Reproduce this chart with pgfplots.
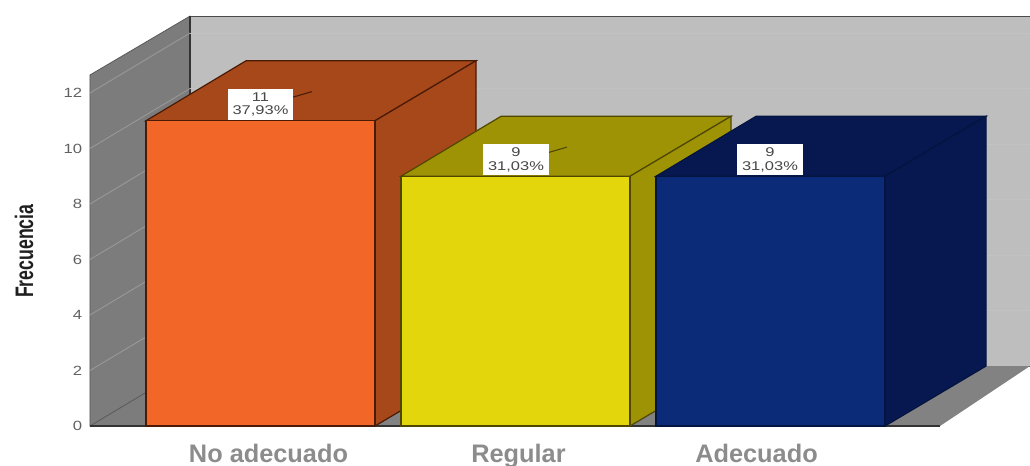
\documentclass[border=0pt]{standalone}
\usepackage{fontspec}
\setmainfont{Liberation Sans}
\usepackage{pgfplots}
\pgfplotsset{compat=1.18}
\definecolor{wallback}{HTML}{BEBEBE}
\definecolor{wallleft}{HTML}{7C7C7C}
\definecolor{wallfloor}{HTML}{828282}
\definecolor{gridleft}{HTML}{989898}
\definecolor{gridback}{HTML}{C2C2C2}
\definecolor{orangeF}{HTML}{F26627}
\definecolor{orangeS}{HTML}{A6481A}
\definecolor{orangeE}{HTML}{4A1A06}
\definecolor{yellowF}{HTML}{E3D60C}
\definecolor{yellowS}{HTML}{9E9305}
\definecolor{yellowE}{HTML}{4F4700}
\definecolor{navyF}{HTML}{0B2A78}
\definecolor{navyS}{HTML}{06184F}
\definecolor{navyE}{HTML}{041440}
\begin{document}
\begin{tikzpicture}
\begin{axis}[
  x=0.75pt, y=20.8125pt,
  xmin=90, xmax=1030, ymin=0, ymax=15.35,
  clip=false,
  axis line style={draw=none},
  tick style={draw=none},
  ytick={0,2,4,6,8,10,12},
  xtick={268.5,518.5,756.5},
  xticklabels={No adecuado,Regular,Adecuado},
  /pgf/number format/assume math mode=true,
  y tick label style={font=\fontsize{10}{12}\selectfont, text=black!62, xscale=1.25, inner sep=0pt, xshift=-4.5pt},
  x tick label style={font=\fontsize{19}{22}\selectfont\bfseries, text=black!45, inner sep=0pt, anchor=base, yshift=-27.5pt},
]
% walls and floor of the chart box
\addplot[draw=black!70, line width=0.7pt, fill=wallback] coordinates {(190,2.16)(190,14.77)(1030,14.77)(1030,2.16)} --cycle;
\addplot[draw=none, fill=wallfloor] coordinates {(90,0)(940,0)(1030,2.16)(190,2.16)} --cycle;
\addplot[draw=none, fill=wallleft] coordinates {(90,0)(146,0)(246,2.16)(190,2.16)} --cycle;
\addplot[draw=black!65, line width=0.6pt, fill=wallleft] coordinates {(90,0)(90,12.65)(190,14.77)(190,2.16)} --cycle;
\addplot[draw=black!80, line width=0.9pt] coordinates {(190,14.77)(190,2.16)};
\addplot[draw=black!80, line width=1pt] coordinates {(90,0)(940,0)};

% gridlines on the left and back walls
\pgfplotsset{gl/.style={draw=gridleft, line width=0.7pt}, gb/.style={draw=gridback, line width=0.7pt}}
\addplot[gl] coordinates {(90,2)(190,4.16)};
\addplot[gl] coordinates {(90,4)(190,6.16)};
\addplot[gl] coordinates {(90,6)(190,8.16)};
\addplot[gl] coordinates {(90,8)(190,10.16)};
\addplot[gl] coordinates {(90,10)(190,12.16)};
\addplot[gl] coordinates {(90,12)(190,14.16)};
\addplot[gb] coordinates {(190,4.16)(1030,4.16)};
\addplot[gb] coordinates {(190,6.16)(1030,6.16)};
\addplot[gb] coordinates {(190,8.16)(1030,8.16)};
\addplot[gb] coordinates {(190,10.16)(1030,10.16)};
\addplot[gb] coordinates {(190,12.16)(1030,12.16)};
\addplot[gb] coordinates {(190,14.16)(1030,14.16)};

% No adecuado
\addplot[draw=orangeE, line width=0.9pt, fill=orangeS] coordinates {(146,11)(246,13.16)(476,13.16)(375,11)} --cycle;
\addplot[draw=orangeE, line width=0.9pt, fill=orangeS] coordinates {(375,0)(375,11)(476,13.16)(476,2.16)} --cycle;
\addplot[ybar, bar width=171.75pt, bar shift=0pt, draw=orangeE, line width=1pt, fill=orangeF] coordinates {(260.5,11)};

% Regular
\addplot[draw=yellowE, line width=0.9pt, fill=yellowS] coordinates {(401,9)(501,11.16)(731,11.16)(630,9)} --cycle;
\addplot[draw=yellowE, line width=0.9pt, fill=yellowS] coordinates {(630,0)(630,9)(731,11.16)(731,2.16)} --cycle;
\addplot[ybar, bar width=171.75pt, bar shift=0pt, draw=yellowE, line width=1pt, fill=yellowF] coordinates {(515.5,9)};

% Adecuado
\addplot[draw=navyE, line width=0.9pt, fill=navyS] coordinates {(656,9)(756,11.16)(986,11.16)(885,9)} --cycle;
\addplot[draw=navyE, line width=0.9pt, fill=navyS] coordinates {(885,0)(885,9)(986,11.16)(986,2.16)} --cycle;
\addplot[ybar, bar width=171.75pt, bar shift=0pt, draw=navyE, line width=1pt, fill=navyF] coordinates {(770.5,9)};

% leader ticks of the value labels
\addplot[draw=orangeE, line width=0.8pt] coordinates {(293,11.85)(312,12.05)};
\addplot[draw=yellowE, line width=0.8pt] coordinates {(548,9.85)(567,10.05)};

% value labels
\tikzset{vl/.style={fill=white, anchor=south, minimum width=49pt, minimum height=23.5pt, inner sep=0pt, align=center, text=black!72, font=\fontsize{9.5}{10}\selectfont}}
\node[vl] at (axis cs:260.5,11.02) {\scalebox{1.3}[1]{11}\\\scalebox{1.3}[1]{37,93\%}};
\node[vl] at (axis cs:516,9.02) {\scalebox{1.3}[1]{9}\\\scalebox{1.3}[1]{31,03\%}};
\node[vl] at (axis cs:770,9.02) {\scalebox{1.3}[1]{9}\\\scalebox{1.3}[1]{31,03\%}};

% axis title
\node[rotate=90, text=black!88, inner sep=0pt, font=\fontsize{19}{22}\selectfont\bfseries] at (axis cs:24,6.3) {\scalebox{0.7}[1]{Frecuencia}};
\end{axis}
\pgfresetboundingbox
\path[use as bounding box] (-67.5pt,-30pt) rectangle (705pt,319.5pt);
\end{tikzpicture}
\end{document}
